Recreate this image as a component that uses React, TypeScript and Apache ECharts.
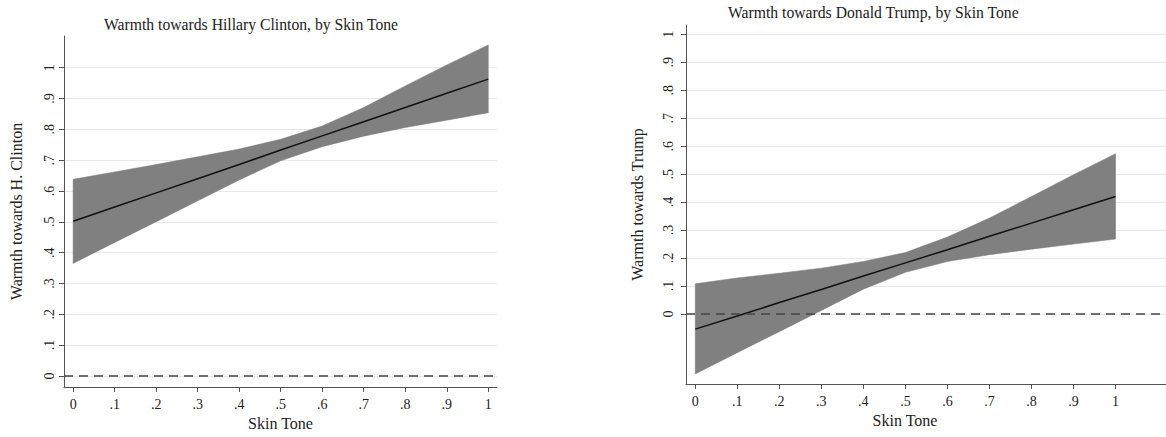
import React, { useEffect, useRef } from "react";
import * as echarts from "echarts";

const skinTone = [0, 0.1, 0.2, 0.3, 0.4, 0.5, 0.6, 0.7, 0.8, 0.9, 1];
const tickValues = [0, 0.1, 0.2, 0.3, 0.4, 0.5, 0.6, 0.7, 0.8, 0.9, 1];

const clintonFit = [0.502, 0.548, 0.594, 0.640, 0.686, 0.733, 0.779, 0.825, 0.871, 0.917, 0.963];
const clintonUpper = [0.638, 0.662, 0.686, 0.711, 0.736, 0.768, 0.811, 0.871, 0.941, 1.009, 1.074];
const clintonLower = [0.365, 0.433, 0.500, 0.568, 0.636, 0.698, 0.744, 0.778, 0.806, 0.830, 0.854];

const trumpFit = [-0.054, -0.007, 0.041, 0.088, 0.136, 0.183, 0.230, 0.278, 0.325, 0.373, 0.420];
const trumpUpper = [0.108, 0.129, 0.146, 0.164, 0.188, 0.220, 0.275, 0.343, 0.420, 0.498, 0.573];
const trumpLower = [-0.214, -0.138, -0.063, 0.013, 0.089, 0.149, 0.188, 0.212, 0.232, 0.250, 0.268];

const FONT = "Liberation Serif";
const TEXT = "#222";
const AXIS = "#555";

const fmt = (v: number) => {
  if (Math.abs(v) < 1e-9) return "0";
  if (Math.abs(v - 1) < 1e-9) return "1";
  return "." + Math.round(v * 10);
};

function bandSeries(idx: number, upper: number[], lower: number[]) {
  return {
    type: "custom",
    xAxisIndex: idx,
    yAxisIndex: idx,
    z: 2,
    clip: true,
    silent: true,
    data: skinTone.map((x, i) => [x, lower[i], upper[i]]),
    renderItem: (params: any, api: any) => {
      if (params.dataIndex !== 0) return null;
      const pts: number[][] = [];
      for (let i = 0; i < skinTone.length; i++) pts.push(api.coord([skinTone[i], upper[i]]));
      for (let i = skinTone.length - 1; i >= 0; i--) pts.push(api.coord([skinTone[i], lower[i]]));
      return {
        type: "polygon",
        shape: { points: pts },
        style: { fill: "#808080", stroke: "#7a7a7a", lineWidth: 0.5 },
      };
    },
  };
}

function zeroSeries(idx: number) {
  return {
    type: "line",
    xAxisIndex: idx,
    yAxisIndex: idx,
    z: 1,
    data: [],
    markLine: {
      silent: true,
      symbol: ["none", "none"],
      label: { show: false },
      lineStyle: { color: "#444", type: [9, 6], width: 1.5 },
      data: [{ yAxis: 0 }],
    },
  };
}

function fitSeries(idx: number, fit: number[]) {
  return {
    type: "line",
    xAxisIndex: idx,
    yAxisIndex: idx,
    z: 3,
    symbol: "none",
    silent: true,
    lineStyle: { color: "#111", width: 1.5 },
    data: skinTone.map((x, i) => [x, fit[i]]),
  };
}

function xAxis(idx: number, min: number, max: number, namePad: number[]) {
  return {
    type: "value",
    gridIndex: idx,
    min,
    max,
    name: "Skin Tone",
    nameLocation: "middle",
    nameGap: 28,
    nameTextStyle: { fontFamily: FONT, fontSize: 16, color: TEXT, padding: namePad },
    axisLine: { show: true, onZero: false, lineStyle: { color: AXIS, width: 1 } },
    axisTick: { show: true, length: 5, lineStyle: { color: AXIS }, customValues: tickValues },
    axisLabel: { fontFamily: FONT, fontSize: 14, color: TEXT, margin: 10, formatter: fmt, customValues: tickValues },
    splitLine: { show: false },
  };
}

function yAxis(idx: number, min: number, max: number, name: string, nameGap: number, margin: number) {
  return {
    type: "value",
    gridIndex: idx,
    min,
    max,
    name,
    nameLocation: "middle",
    nameGap,
    nameTextStyle: { fontFamily: FONT, fontSize: 16, color: TEXT },
    axisLine: { show: true, onZero: false, lineStyle: { color: AXIS, width: 1 } },
    axisTick: { show: true, length: 5, lineStyle: { color: AXIS }, customValues: tickValues },
    axisLabel: { fontFamily: FONT, fontSize: 14, color: TEXT, rotate: 90, margin, formatter: fmt, customValues: tickValues },
    splitLine: { show: true, lineStyle: { color: "#e9e9e9", width: 1 } },
  };
}

export default function App() {
  const ref = useRef<HTMLDivElement>(null);
  useEffect(() => {
    if (!ref.current) return;
    const chart = echarts.init(ref.current, null, { renderer: "svg" });
    chart.setOption({
      animation: false,
      backgroundColor: "#fff",
      title: [
        {
          text: "Warmth towards Hillary Clinton, by Skin Tone",
          left: 104,
          top: 16,
          padding: 0,
          textStyle: { fontFamily: FONT, fontSize: 15.7, fontWeight: "normal", color: TEXT },
        },
        {
          text: "Warmth towards Donald Trump, by Skin Tone",
          left: 728,
          top: 4,
          padding: 0,
          textStyle: { fontFamily: FONT, fontSize: 15.7, fontWeight: "normal", color: TEXT },
        },
      ],
      grid: [
        { left: 64, top: 36, width: 433, height: 351, containLabel: false },
        { left: 686, top: 25, width: 480, height: 359, containLabel: false },
      ],
      xAxis: [xAxis(0, -0.022, 1.021, [0, 0, 0, 0]), xAxis(1, -0.022, 1.12, [0, 42, 0, 0])],
      yAxis: [
        yAxis(0, -0.036, 1.103, "Warmth towards H. Clinton", 40, 8),
        yAxis(1, -0.25, 1.033, "Warmth towards Trump", 41, 11),
      ],
      series: [
        zeroSeries(0),
        bandSeries(0, clintonUpper, clintonLower),
        fitSeries(0, clintonFit),
        zeroSeries(1),
        bandSeries(1, trumpUpper, trumpLower),
        fitSeries(1, trumpFit),
      ],
    });
    return () => chart.dispose();
  }, []);
  return <div ref={ref} style={{ width: 1166, height: 437, position: "absolute", left: 0, top: 0 }} />;
}
